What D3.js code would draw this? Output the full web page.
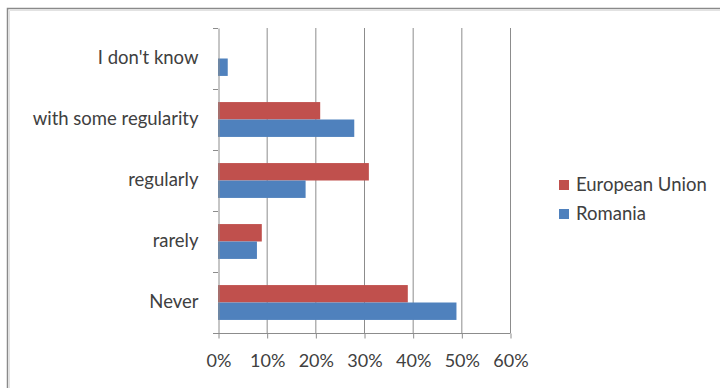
<!DOCTYPE html>
<html>
<head>
<meta charset="utf-8">
<script src="https://cdn.jsdelivr.net/npm/d3@7"></script>
<style>
  html, body { margin: 0; padding: 0; background: #ffffff; }
  svg { display: block; }
  text { font-family: Lato, "Open Sans", sans-serif; fill: #404040; }
</style>
</head>
<body>
<script>
// Survey answers, top to bottom
const categories = ["I don't know", "with some regularity", "regularly", "rarely", "Never"];
const seriesNames = ["European Union", "Romania"];
const euValues = [0, 21, 31, 9, 39];
const roValues = [2, 28, 18, 8, 49];
const xTicks = [0, 10, 20, 30, 40, 50, 60];
const colors = ["#C0504D", "#4F81BD"];

const W = 720, H = 388;
const plot = { left: 218, right: 510, top: 28, bottom: 333 };
const labelSize = 18.5;

const svg = d3.select("body").append("svg").attr("width", W).attr("height", H);

// Chart frame
svg.append("rect").attr("x", 0).attr("y", 0).attr("width", W).attr("height", H).attr("fill", "#ffffff");
svg.append("path")
  .attr("d", `M7.5,${H} V8.5 H${W}`)
  .attr("fill", "none").attr("stroke", "#8a8a8a").attr("stroke-width", 1.5);
svg.append("path")
  .attr("d", `M9.5,${H} V10.5 H${W}`)
  .attr("fill", "none").attr("stroke", "#e2e2e2").attr("stroke-width", 1);

const x = d3.scaleLinear().domain([0, 60]).range([plot.left, plot.right]);
const y = d3.scaleBand().domain(categories).range([plot.top, plot.bottom]).padding(0);
const sub = d3.scaleBand().domain(seriesNames).range([0, y.bandwidth()])
  .paddingInner(0).paddingOuter(0.75);

// Vertical gridlines
svg.append("g").selectAll("line").data(xTicks.slice(1)).join("line")
  .attr("x1", d => x(d) + 0.5).attr("x2", d => x(d) + 0.5)
  .attr("y1", plot.top).attr("y2", plot.bottom)
  .attr("stroke", "#8c8c8c").attr("stroke-width", 1);

// Bars
const rows = categories.map((c, i) => ({ cat: c, vals: [euValues[i], roValues[i]] }));
const g = svg.append("g");
rows.forEach(r => {
  r.vals.forEach((v, j) => {
    if (v <= 0) return;
    g.append("rect")
      .attr("x", x(0))
      .attr("y", y(r.cat) + sub(seriesNames[j]))
      .attr("width", x(v) - x(0))
      .attr("height", sub.bandwidth())
      .attr("fill", colors[j]);
  });
});

// X axis
const xAxis = svg.append("g").attr("transform", `translate(0.5,${plot.bottom + 0.5})`)
  .call(d3.axisBottom(x).tickValues(xTicks).tickFormat(d => d + "%").tickSize(5).tickPadding(16));
xAxis.select(".domain").attr("d", `M${plot.left - 5},0H${plot.right}`).attr("stroke", "#8c8c8c");
xAxis.selectAll(".tick line").attr("stroke", "#8c8c8c");
xAxis.selectAll("text").attr("font-size", 18).attr("fill", "#404040")
  .style("font-family", "Lato, 'Open Sans', sans-serif");

// Y axis
const yAxis = svg.append("g").attr("transform", `translate(${plot.left + 0.5},0)`)
  .call(d3.axisLeft(y).tickSize(0).tickPadding(20));
yAxis.select(".domain").attr("stroke", "#8c8c8c");
yAxis.selectAll("text").attr("font-size", labelSize).attr("fill", "#404040")
  .style("font-family", "Lato, 'Open Sans', sans-serif");
// category boundary ticks
svg.append("g").selectAll("line").data(categories.concat(["_end"])).join("line")
  .attr("x1", plot.left - 5).attr("x2", plot.left)
  .attr("y1", (d, i) => plot.top + i * y.step() + 0.5)
  .attr("y2", (d, i) => plot.top + i * y.step() + 0.5)
  .attr("stroke", "#8c8c8c");

// Legend
const legend = svg.append("g").attr("transform", "translate(559,0)");
const legendY = [185, 214];
seriesNames.forEach((s, i) => {
  legend.append("rect").attr("x", 0).attr("y", legendY[i] - 5).attr("width", 10).attr("height", 10)
    .attr("fill", colors[i]);
  legend.append("text").attr("x", 17).attr("y", legendY[i]).attr("dy", "0.35em")
    .attr("font-size", labelSize).text(s);
});
</script>
</body>
</html>
